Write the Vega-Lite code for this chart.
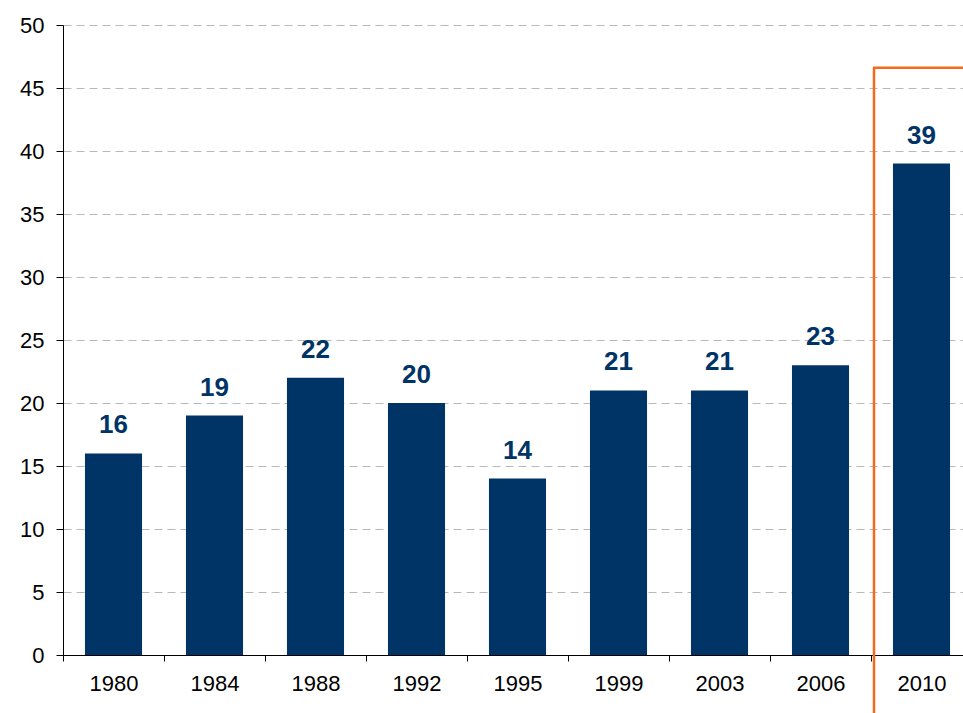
{
  "$schema": "https://vega.github.io/schema/vega-lite/v6.json",
  "autosize": {"type": "none"},
  "padding": {"left": 63, "top": 25, "right": 0, "bottom": 58},
  "width": 900,
  "height": 630,
  "background": "white",
  "config": {
    "view": {"stroke": null},
    "font": "Liberation Sans"
  },
  "datasets": {
    "bars": [
      {"year": "1980", "value": 16},
      {"year": "1984", "value": 19},
      {"year": "1988", "value": 22},
      {"year": "1992", "value": 20},
      {"year": "1995", "value": 14},
      {"year": "1999", "value": 21},
      {"year": "2003", "value": 21},
      {"year": "2006", "value": 23},
      {"year": "2010", "value": 39}
    ],
    "box": [
      {"year": "2010", "top": 46.6, "bottom": -4.6}
    ]
  },
  "layer": [
    {
      "data": {"name": "bars"},
      "mark": {"type": "bar", "color": "#003366", "width": {"band": 0.565}},
      "encoding": {
        "x": {
          "field": "year", "type": "nominal", "sort": null,
          "scale": {"paddingInner": 0, "paddingOuter": 0, "range": [0, 909]},
          "axis": {
            "title": null, "labelAngle": 0, "labelFontSize": 22, "labelColor": "#000000",
            "labelFont": "Liberation Sans", "labelPadding": 12,
            "domainColor": "#000000", "domainWidth": 1,
            "tickColor": "#000000", "tickSize": 6, "tickBand": "extent",
            "grid": false
          }
        },
        "y": {
          "field": "value", "type": "quantitative",
          "scale": {"domain": [0, 50], "nice": false},
          "axis": {
            "title": null, "values": [0, 5, 10, 15, 20, 25, 30, 35, 40, 45, 50],
            "labelFontSize": 22, "labelColor": "#000000", "labelFont": "Liberation Sans",
            "labelPadding": 12, "tickSize": 7, "tickColor": "#000000",
            "domainColor": "#000000", "domainWidth": 1,
            "grid": true, "gridColor": "#b8b8b8", "gridDash": [8, 5], "gridWidth": 1
          }
        }
      }
    },
    {
      "data": {"name": "bars"},
      "mark": {"type": "text", "color": "#003366", "fontSize": 26, "fontWeight": "bold", "font": "Liberation Sans", "baseline": "alphabetic", "dy": -20},
      "encoding": {
        "x": {"field": "year", "type": "nominal", "sort": null},
        "y": {"field": "value", "type": "quantitative"},
        "text": {"field": "value", "type": "quantitative"}
      }
    },
    {
      "data": {"name": "box"},
      "mark": {"type": "rule", "color": "#F26A1B", "strokeWidth": 2.5, "xOffset": 3},
      "encoding": {
        "x": {"field": "year", "type": "nominal", "bandPosition": 0},
        "y": {"field": "top", "type": "quantitative"},
        "y2": {"field": "bottom"}
      }
    },
    {
      "data": {"name": "box"},
      "mark": {"type": "rule", "color": "#F26A1B", "strokeWidth": 2.5, "xOffset": 2},
      "encoding": {
        "x": {"field": "year", "type": "nominal", "bandPosition": 0},
        "x2": {"field": "year", "bandPosition": 1},
        "y": {"field": "top", "type": "quantitative"}
      }
    }
  ]
}
